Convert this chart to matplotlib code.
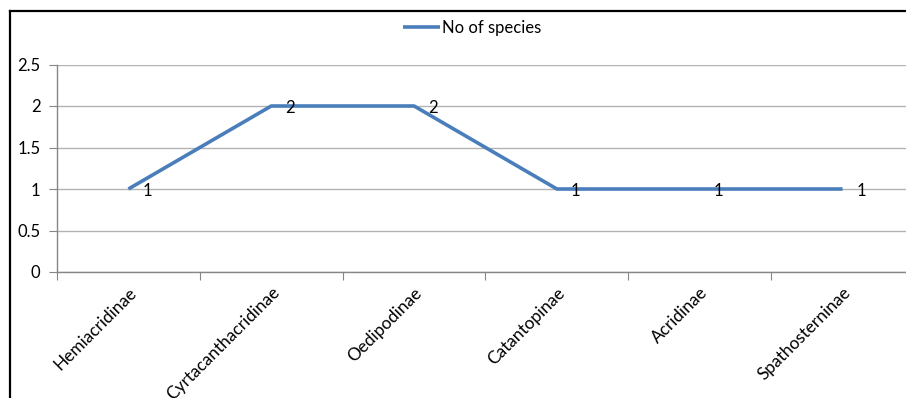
import matplotlib
matplotlib.use('Agg')
import matplotlib.pyplot as plt
from matplotlib.lines import Line2D

# data
subfamilies = ['Hemiacridinae', 'Cyrtacanthacridinae', 'Oedipodinae',
               'Catantopinae', 'Acridinae', 'Spathosterninae']
n_species = [1, 2, 2, 1, 1, 1]
series_name = 'No of species'
y_ticks = [0, 0.5, 1, 1.5, 2, 2.5]

plt.rcParams['font.family'] = ['Lato', 'DejaVu Sans']
fs = 12.4

W, H = 906, 398
fig = plt.figure(figsize=(W / 100, H / 100), dpi=100)
ax = fig.add_axes([57 / W, (H - 272) / H, 857 / W, 207.5 / H])

x = [i + 0.5 for i in range(len(subfamilies))]
ax.plot(x, n_species, color='#4a7ebb', lw=2.6, label=series_name,
        solid_capstyle='butt', zorder=3)
for xi, v in zip(x, n_species):
    ax.annotate(str(v), (xi, v), xytext=(10, -1.5), textcoords='offset points',
                ha='left', va='center', fontsize=fs - 0.4, color='black')

ax.set_xlim(0, len(subfamilies))
ax.set_ylim(0, 2.5)
ax.set_yticks(y_ticks)
ax.set_yticklabels(['0', '0.5', '1', '1.5', '2', '2.5'])
ax.set_xticks(range(len(subfamilies) + 1))
ax.set_xticklabels([])
ax.set_xticks(x, minor=True)
ax.set_xticklabels(subfamilies, minor=True, rotation=45, ha='right',
                   va='top', rotation_mode='anchor')
ax.tick_params(axis='x', which='minor', length=0, pad=9, labelsize=fs)
ax.tick_params(axis='x', which='major', length=6, color='#868686',
               direction='out')
ax.tick_params(axis='y', length=6, color='#868686', labelsize=fs - 0.4, pad=6)

ax.grid(axis='y', color='#b3b3b3', lw=1)
ax.set_axisbelow(True)
for s in ['top', 'right']:
    ax.spines[s].set_visible(False)
for s in ['left', 'bottom']:
    ax.spines[s].set_color('#868686')
    ax.spines[s].set_linewidth(1)

fig.legend(loc='center', bbox_to_anchor=(472 / W, 1 - 28 / H), frameon=False,
           fontsize=fs - 0.4, handlelength=2.2, handletextpad=0.1)

# chart border (top and left visible)
fig.add_artist(Line2D([9.5 / W, 1], [1 - 11 / H, 1 - 11 / H],
                      transform=fig.transFigure, color='black', lw=1.6))
fig.add_artist(Line2D([9.5 / W, 9.5 / W], [0, 1 - 11 / H],
                      transform=fig.transFigure, color='black', lw=1.6))

fig.savefig('out.png', dpi=100)
